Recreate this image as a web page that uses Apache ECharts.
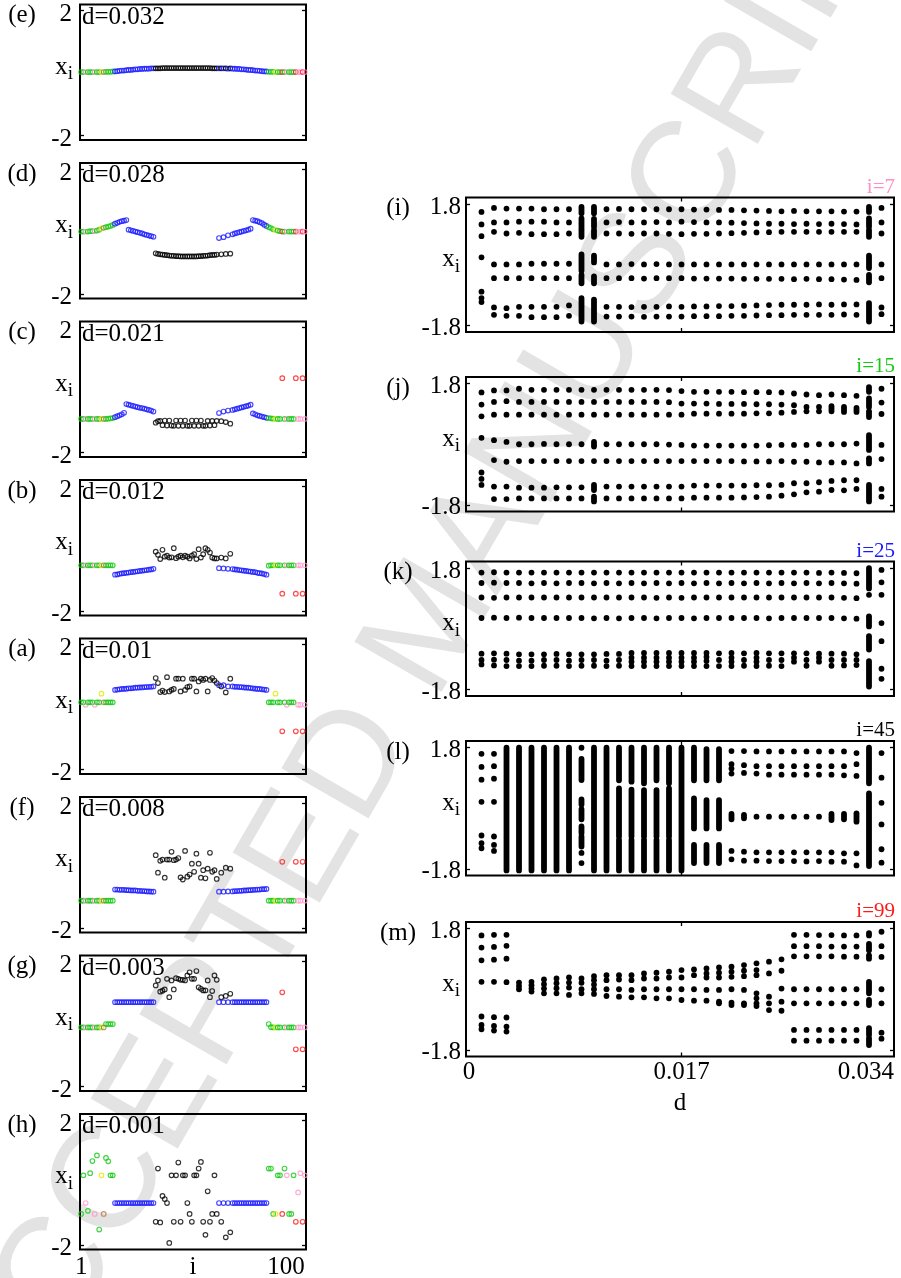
<!DOCTYPE html>
<html><head><meta charset="utf-8">
<script src="https://cdn.jsdelivr.net/npm/echarts@6.0.0/dist/echarts.min.js"></script>
<style>html,body{margin:0;padding:0;background:#fff}#c{width:901px;height:1278px}</style>
</head><body><div id="c"></div>
<script>
const FONT = 'Liberation Serif';

// ---------- left panels: snapshot x_i versus oscillator index i ----------
const indices = [1,2,3,4,5,6,7,8,9,10,11,12,13,14,15,16,17,18,19,20,21,22,23,24,25,26,27,28,29,30,31,32,33,34,35,36,37,38,39,40,41,42,43,44,45,46,47,48,49,50,51,52,53,54,55,56,57,58,59,60,61,62,63,64,65,66,67,68,69,70,71,72,73,74,75,76,77,78,79,80,81,82,83,84,85,86,87,88,89,90,91,92,93,94,95,96,97,98,99,100];
// colour class of each oscillator (G green, P pink, Y yellow, N brown, B blue, K black, R red)
const colorKeys = 'GGPGGGPGGYNGGGG' + 'BBBBBBBBBBBBBBBBBB' + 'KKKKKKKKKKKKKKKKKKKKKKKKKKKK' + 'BKBKBK' + 'BBBBBBBBBBBBBBBB' + 'GGGYGGRGPGGGRPPRP';
const palette = {G:'#14c814', P:'#ff99cc', Y:'#e6e600', N:'#b07a45', B:'#1a1aff', K:'#000000', R:'#ff1a1a'};

const leftLabels = ['(e)','(d)','(c)','(b)','(a)','(f)','(g)','(h)'];
const leftTitles = ['d=0.032','d=0.028','d=0.021','d=0.012','d=0.01','d=0.008','d=0.003','d=0.001'];

const xE = [0.03,0.03,0.03,0.03,0.03,0.03,0.03,0.03,0.03,0.03,0.03,0.04,0.04,0.04,0.05,
 0.05,0.06,0.07,0.08,0.08,0.09,0.10,0.10,0.11,0.12,0.12,0.13,0.13,0.14,0.14,0.14,0.15,0.15,
 0.15,0.15,0.15,0.16,0.16,0.16,0.16,0.16,0.16,0.16,0.16,0.16,0.16,0.16,0.16,0.16,0.16,0.16,0.16,0.16,0.16,0.16,0.16,0.16,0.16,0.15,0.15,0.15,
 0.15,0.15,0.15,0.15,0.14,0.15,
 0.14,0.14,0.13,0.13,0.12,0.12,0.11,0.10,0.10,0.09,0.08,0.08,0.07,0.06,0.05,0.05,
 0.04,0.04,0.04,0.03,0.03,0.03,0.03,0.03,0.03,0.03,0.03,0.03,0.03,0.03,0.03,0.03,0.03];
const xD = [0.00,0.00,0.00,0.00,0.01,0.01,0.01,0.03,0.06,0.10,0.12,0.14,0.16,0.18,0.21,
 0.25,0.28,0.31,0.33,0.35,0.37,0.06,0.04,0.02,0.00,-0.02,-0.04,-0.06,-0.09,-0.11,-0.13,-0.15,-0.17,
 -0.70,-0.72,-0.73,-0.74,-0.75,-0.76,-0.77,-0.78,-0.78,-0.79,-0.79,-0.80,-0.80,-0.80,-0.80,-0.80,-0.80,-0.80,-0.80,-0.79,-0.79,-0.78,-0.78,-0.77,-0.76,-0.75,-0.75,-0.74,
 -0.21,-0.73,-0.18,-0.72,-0.12,-0.71,
 -0.09,-0.06,-0.04,-0.02,0.00,0.02,0.04,0.06,0.09,0.37,0.35,0.33,0.30,0.27,0.22,0.18,
 0.14,0.11,0.07,0.05,0.03,0.01,0.00,0.00,0.00,0.00,0.00,0.00,0.00,0.00,0.00,0.00,0.00];
const xC = [-0.93,-0.93,-0.93,-0.93,-0.93,-0.93,-0.93,-0.93,-0.93,-0.93,-0.93,-0.93,-0.92,-0.91,-0.90,
 -0.87,-0.84,-0.81,-0.78,-0.73,-0.45,-0.47,-0.49,-0.51,-0.53,-0.55,-0.57,-0.58,-0.60,-0.62,-0.64,-0.66,-0.69,
 -1.05,-1.00,-0.99,-1.13,-0.98,-1.14,-0.98,-1.14,-1.15,-0.98,-1.15,-0.98,-1.15,-0.98,-1.15,-1.15,-0.98,-1.15,-0.98,-1.15,-0.98,-1.15,-1.15,-0.99,-1.14,-0.99,-1.13,-0.99,
 -0.74,-1.00,-0.69,-1.03,-0.66,-1.08,
 -0.64,-0.62,-0.60,-0.58,-0.56,-0.54,-0.52,-0.50,-0.47,-0.75,-0.78,-0.81,-0.83,-0.85,-0.87,-0.89,
 -0.90,-0.91,-0.92,-0.93,-0.93,-0.93,0.38,-0.93,-0.93,-0.93,-0.93,-0.93,0.38,-0.93,-0.93,0.38,-0.93];
const xB = [-0.54,-0.54,-0.54,-0.54,-0.54,-0.54,-0.54,-0.54,-0.54,-0.54,-0.54,-0.54,-0.54,-0.54,-0.54,
 -0.84,-0.83,-0.81,-0.80,-0.79,-0.78,-0.77,-0.76,-0.75,-0.74,-0.73,-0.72,-0.71,-0.70,-0.69,-0.68,-0.67,-0.65,
 -0.10,-0.20,-0.34,-0.04,-0.26,-0.23,-0.29,-0.28,0.01,-0.31,-0.26,-0.23,-0.28,-0.23,-0.26,-0.32,-0.23,-0.18,-0.34,-0.02,-0.29,-0.18,0.01,-0.04,-0.13,-0.29,-0.32,-0.32,
 -0.63,-0.29,-0.64,-0.32,-0.65,-0.17,
 -0.66,-0.67,-0.68,-0.69,-0.70,-0.71,-0.72,-0.73,-0.74,-0.75,-0.76,-0.78,-0.79,-0.80,-0.82,-0.84,
 -0.55,-0.54,-0.54,-0.54,-0.54,-0.54,-1.45,-0.54,-0.54,-0.54,-0.54,-0.54,-1.45,-0.54,-0.54,-1.45,-0.54];
const xA = [0.15,0.15,0.07,0.15,0.15,0.15,0.07,0.15,0.15,0.43,0.15,0.15,0.15,0.15,0.15,
 0.55,0.56,0.57,0.58,0.58,0.59,0.60,0.60,0.61,0.62,0.62,0.63,0.63,0.64,0.64,0.65,0.65,0.66,
 0.93,0.77,0.48,0.53,0.48,0.96,0.50,0.55,0.58,0.91,0.91,0.50,0.91,0.55,0.64,0.66,0.91,0.91,0.50,0.82,0.91,0.87,0.91,0.50,0.87,0.93,0.85,0.77,
 0.70,0.66,0.70,0.47,0.66,0.91,
 0.66,0.65,0.65,0.64,0.64,0.63,0.62,0.62,0.61,0.60,0.59,0.58,0.58,0.57,0.56,0.55,
 0.15,0.15,0.15,0.43,0.15,0.15,-0.78,0.15,0.07,0.15,0.15,0.15,-0.78,0.07,0.07,-0.78,0.07];
const xF = [-1.13,-1.13,-1.13,-1.13,-1.13,-1.13,-1.13,-1.13,-1.13,-1.13,-1.13,-1.13,-1.13,-1.13,-1.13,
 -0.77,-0.77,-0.78,-0.78,-0.78,-0.79,-0.79,-0.80,-0.80,-0.80,-0.81,-0.81,-0.82,-0.82,-0.83,-0.83,-0.84,-0.84,
 0.33,-0.23,0.15,0.19,-0.39,0.19,0.19,0.44,0.17,0.19,0.24,-0.38,-0.45,0.47,-0.36,-0.29,0.06,-0.20,0.38,0.06,-0.39,-0.15,-0.41,-0.10,0.41,-0.20,-0.15,-0.43,
 -0.84,-0.23,-0.84,-0.07,-0.83,-0.10,
 -0.83,-0.82,-0.82,-0.81,-0.81,-0.80,-0.80,-0.79,-0.79,-0.78,-0.78,-0.77,-0.77,-0.76,-0.76,-0.75,
 -1.13,-1.13,-1.13,-1.13,-1.13,-1.13,0.12,-1.13,-1.13,-1.13,-1.13,-1.13,0.12,-1.13,-1.13,0.12,-1.13];
const xG = [-0.11,-0.11,-0.11,-0.11,-0.11,-0.11,-0.11,-0.11,-0.11,-0.11,-0.11,0.00,0.00,0.00,0.00,
 0.70,0.70,0.70,0.70,0.70,0.70,0.70,0.70,0.70,0.70,0.70,0.70,0.70,0.70,0.70,0.70,0.70,0.70,
 1.24,1.40,1.04,1.07,1.11,1.45,0.86,1.40,1.11,1.47,1.45,1.42,1.42,1.40,1.56,1.66,1.45,1.45,1.70,1.18,1.13,1.08,1.08,1.40,0.86,1.06,1.56,1.42,
 0.70,0.86,0.70,0.90,0.70,0.97,
 0.70,0.70,0.70,0.70,0.70,0.70,0.70,0.70,0.70,0.70,0.70,0.70,0.70,0.70,0.70,0.70,
 0.00,-0.10,-0.11,-0.11,-0.11,-0.11,1.02,-0.11,-0.11,-0.11,-0.11,-0.11,-0.81,-0.11,-0.11,-0.81,-0.11];
const xH = [-1.01,0.23,-0.66,-0.91,0.30,0.69,-1.01,0.87,-1.51,0.23,-1.01,0.79,0.68,0.23,0.23,
 -0.66,-0.66,-0.66,-0.66,-0.66,-0.66,-0.66,-0.66,-0.66,-0.66,-0.66,-0.66,-0.66,-0.66,-0.66,-0.66,-0.66,-0.66,
 -1.26,0.45,-1.28,-0.43,-0.53,-0.66,-1.94,0.23,-1.26,0.23,0.64,-1.26,0.23,0.23,-0.66,-1.01,-1.26,0.23,0.23,0.45,0.66,-1.26,-1.68,-0.28,-1.26,-1.01,0.23,-1.01,
 -0.66,-1.26,-0.66,-1.76,-0.66,-1.60,
 -0.66,-0.66,-0.66,-0.66,-0.66,-0.66,-0.66,-0.66,-0.66,-0.66,-0.66,-0.66,-0.66,-0.66,-0.66,-0.66,
 0.45,0.45,-1.01,-1.01,0.23,0.23,-1.01,0.45,0.23,-1.01,-1.01,0.23,-1.26,-0.32,0.30,-1.26,0.23];
const leftValues = [xE, xD, xC, xB, xA, xF, xG, xH];

// ---------- right panels: x_i versus coupling d ----------
const dValues = [0.001,0.002,0.003,0.004,0.005,0.006,0.007,0.008,0.009,0.010,0.011,0.012,0.013,0.014,0.015,0.016,0.017,0.018,0.019,0.020,0.021,0.022,0.023,0.024,0.025,0.026,0.027,0.028,0.029,0.030,0.031,0.032,0.033];
const dTicks = [0, 0.017, 0.034];
const rightLabels = ['(i)','(j)','(k)','(l)','(m)'];
const rightTitles = ['i=7','i=15','i=25','i=45','i=99'];
const rightTitleColors = ['#ff8fc8','#14c814','#1a1aff','#000000','#ff1a1a'];
// each column: single values, or [low, high] for a dense cluster
const colsI = [
 [1.57,1.20,0.85,0.22,-0.80,-0.99,-1.11],
 [1.69,1.26,0.98,0.01,-0.40,-1.27,-1.49],
 [1.67,1.26,0.93,0.01,-0.40,-1.29,-1.52],
 [1.67,1.28,0.95,0.01,-0.40,-1.25,-1.52],
 [1.67,1.28,0.91,0.03,-0.40,-1.25,-1.56],
 [1.65,1.28,0.91,0.03,-0.40,-1.25,-1.56],
 [1.65,1.26,0.91,0.03,-0.40,-1.25,-1.56],
 [1.65,1.26,0.93,0.03,-0.40,-1.21,-1.52],
 [[1.53,1.72],[1.08,1.38],[0.83,1.03],[-0.18,0.31],[-0.55,-0.30],[-1.69,-0.99]],
 [[1.53,1.72],[1.13,1.36],[0.83,1.03],[0.07,0.27],[-0.55,-0.35],[-1.69,-1.04]],
 [1.65,1.26,0.93,0.01,-0.40,-1.25,-1.54],
 [1.66,1.27,0.93,0.01,-0.40,-1.25,-1.54],
 [1.65,1.26,0.92,0.02,-0.40,-1.26,-1.54],
 [1.65,1.26,0.93,0.01,-0.41,-1.25,-1.55],
 [1.65,1.27,0.93,0.02,-0.40,-1.25,-1.54],
 [1.65,1.26,0.92,0.01,-0.40,-1.24,-1.54],
 [1.65,1.28,0.91,0.01,-0.40,-1.25,-1.54],
 [1.64,1.27,0.92,0.01,-0.41,-1.24,-1.53],
 [1.64,1.26,0.92,0.01,-0.41,-1.24,-1.53],
 [1.63,1.26,0.93,0.01,-0.41,-1.23,-1.53],
 [1.63,1.25,0.94,0.01,-0.41,-1.23,-1.52],
 [1.62,1.24,0.95,0.01,-0.42,-1.22,-1.52],
 [1.61,1.23,0.96,0.01,-0.42,-1.21,-1.51],
 [1.60,1.22,0.97,0.01,-0.42,-1.20,-1.50],
 [1.59,1.22,0.98,0.01,-0.42,-1.19,-1.50],
 [1.60,1.21,0.98,0.01,-0.43,-1.19,-1.49],
 [1.59,1.22,0.98,0.01,-0.42,-1.19,-1.49],
 [1.59,1.21,0.98,0.01,-0.43,-1.18,-1.49],
 [1.59,1.22,0.98,0.01,-0.43,-1.19,-1.49],
 [1.58,1.21,0.98,0.01,-0.44,-1.18,-1.48],
 [1.58,1.20,0.98,0.01,-0.45,-1.18,-1.49],
 [[1.57,1.72],[1.13,1.38],[0.83,1.03],[-0.10,0.27],[-0.52,-0.30],[-1.69,-1.14]],
 [1.69,1.26,0.93,0.01,-0.40,-1.27,-1.47]
];
const colsJ = [
 [1.54,1.18,0.83,0.19,-0.84,-1.03,-1.21],
 [1.60,1.26,0.88,0.12,-0.47,-1.26,-1.63],
 [1.60,1.28,0.88,0.07,-0.52,-1.26,-1.63],
 [1.65,1.26,0.88,0.00,-0.50,-1.29,-1.61],
 [1.62,1.26,0.88,0.00,-0.50,-1.29,-1.61],
 [1.62,1.26,0.88,0.01,-0.50,-1.29,-1.61],
 [1.62,1.26,0.88,0.00,-0.50,-1.28,-1.61],
 [1.62,1.26,0.88,0.00,-0.50,-1.28,-1.61],
 [1.62,1.26,0.88,0.00,-0.50,-1.28,-1.61],
 [1.62,1.26,0.88,[-0.07,0.07],-0.50,[-1.36,-1.21],[-1.70,-1.56]],
 [1.62,1.26,0.88,0.00,-0.50,-1.26,-1.61],
 [1.62,1.26,0.88,0.00,-0.50,-1.26,-1.61],
 [1.62,1.26,0.88,0.00,-0.50,-1.26,-1.61],
 [1.62,1.26,0.88,0.00,-0.50,-1.26,-1.61],
 [1.62,1.26,0.88,0.00,-0.50,-1.26,-1.61],
 [1.61,1.25,0.88,-0.01,-0.50,-1.26,-1.61],
 [1.58,1.21,0.88,-0.02,-0.50,-1.26,-1.61],
 [1.56,1.21,0.91,-0.04,-0.50,-1.23,-1.59],
 [1.56,1.21,0.91,-0.04,-0.50,-1.23,-1.59],
 [1.56,1.20,0.91,-0.04,-0.50,-1.23,-1.59],
 [1.56,1.20,0.91,-0.04,-0.50,-1.23,-1.59],
 [1.55,1.20,0.91,-0.04,-0.51,-1.23,-1.58],
 [1.55,1.19,0.92,-0.04,-0.51,-1.22,-1.57],
 [1.55,1.19,0.92,-0.03,-0.51,-1.22,-1.56],
 [1.54,1.18,0.94,-0.02,-0.50,-1.21,-1.53],
 [1.51,1.16,0.96,-0.02,-0.52,-1.16,-1.49],
 [1.48,1.11,0.98,-0.02,-0.52,-1.16,-1.43],
 [1.46,1.11,0.98,0.00,-0.54,-1.13,-1.41],
 [1.48,[0.98,1.13],0.00,-0.54,-1.09,-1.36],
 [1.46,[0.96,1.11],0.00,-0.54,-1.07,-1.37],
 [1.44,[0.96,1.08],0.02,-0.57,-1.07,-1.33],
 [[1.56,1.70],[1.11,1.36],[0.81,0.98],[-0.17,0.27],[-0.57,-0.42],[-1.70,-1.21]],
 [1.65,1.24,0.90,-0.02,-0.44,-1.33,-1.56]
];
const colsK = [
 [1.67,1.36,0.93,0.32,-0.74,-0.93,-1.06],
 [1.68,1.37,0.92,0.33,-0.73,-0.92,-1.09],
 [1.67,1.36,0.93,0.32,-0.74,-0.93,-1.11],
 [1.67,1.36,0.93,0.33,-0.76,-0.95,-1.11],
 [1.67,1.35,0.93,0.32,-0.76,-0.95,-1.11],
 [1.67,1.36,0.93,0.32,-0.76,-0.93,-1.10],
 [1.67,1.35,0.93,0.32,-0.75,-0.93,-1.10],
 [1.67,1.36,0.93,0.32,-0.76,-0.95,-1.11],
 [1.67,1.36,0.93,0.32,-0.76,-0.93,-1.10],
 [1.67,1.35,0.93,0.31,-0.76,-0.93,-1.10],
 [1.67,1.36,0.93,0.32,-0.75,-0.95,-1.11],
 [1.67,1.35,0.93,0.31,-0.75,-0.93,-1.10],
 [1.67,1.36,0.93,0.32,-0.72,-0.86,-0.98,-1.11],
 [1.67,1.35,0.93,0.32,-0.72,-0.86,-0.98,-1.11],
 [1.67,1.36,0.92,0.31,-0.72,-0.86,-0.98,-1.11],
 [1.67,1.35,0.93,0.32,-0.72,-0.86,-0.98,-1.11],
 [1.67,1.36,0.92,0.32,-0.72,-0.86,-0.98,-1.11],
 [1.67,1.35,0.93,0.31,-0.72,-0.86,-0.98,-1.11],
 [1.67,1.36,0.93,0.32,-0.72,-0.84,-0.96,-1.11],
 [1.67,1.35,0.93,0.32,-0.73,-0.93,-1.11],
 [1.67,1.36,0.93,0.32,-0.72,-0.86,-0.98,-1.11],
 [1.67,1.35,0.93,0.32,-0.73,-0.93,-1.10],
 [1.67,1.36,0.93,0.32,-0.72,-0.86,-0.98,-1.11],
 [1.67,1.35,0.93,0.31,-0.73,-0.93,-1.10],
 [1.67,1.36,0.93,0.32,-0.73,-0.93,-1.11],
 [1.67,1.35,0.93,0.32,-0.73,-0.86,-0.98],
 [1.67,1.36,0.93,0.32,-0.73,-0.93,-1.10],
 [1.66,1.35,0.93,0.32,-0.74,-0.86,-0.98],
 [1.67,1.36,0.93,0.32,-0.74,-0.93,-1.10],
 [1.66,1.35,0.92,0.31,-0.74,-0.93,-1.09],
 [1.65,1.34,0.91,0.30,-0.76,-0.93,-1.08],
 [[1.20,1.80],1.01,[0.07,0.37],[-0.62,-0.22],[-1.72,-0.96]],
 [1.75,1.38,1.01,0.17,-0.37,-1.19,-1.49]
];
const colsL = [
 [1.62,1.23,0.85,0.19,-0.81,-1.04,-1.19],
 [1.62,1.25,0.88,0.19,-0.84,-1.09,-1.27],
 [[-1.85,1.80]],
 [[-1.85,1.80]],
 [[-1.85,1.80]],
 [[-1.85,1.80]],
 [[-1.85,1.80]],
 [[-1.85,1.80]],
 [1.80,[0.84,1.47],[0.11,0.26],[-0.33,-0.03],[-0.74,-0.54],[-1.14,-0.84],-1.33,-1.63],
 [[-1.85,1.80]],
 [[-1.85,1.80]],
 [[0.83,1.80],[-0.84,0.59],[-1.85,-0.94]],
 [[0.79,1.80],[-0.84,0.55],[-1.85,-0.94]],
 [[0.74,1.80],[-0.84,0.54],[-1.85,-0.94]],
 [[0.83,1.80],[-0.84,0.54],[-1.85,-0.94]],
 [[0.74,1.80],[-0.84,0.59],[-1.85,-0.94]],
 [[-1.85,1.80]],
 [[0.83,1.80],[-0.60,0.29],[-1.63,-1.09]],
 [[0.83,1.76],[-0.60,0.24],[-1.63,-1.09]],
 [[0.83,1.76],[-0.60,0.24],[-1.63,-1.09]],
 [1.70,1.31,1.18,1.03,[-0.33,-0.17],-1.27,-1.52],
 [1.70,1.28,1.05,[-0.30,-0.20],-1.29,-1.56],
 [1.69,1.25,1.03,-0.25,-1.31,-1.56],
 [1.69,1.25,1.00,-0.25,-1.31,-1.57],
 [1.69,1.25,1.00,-0.25,-1.31,-1.57],
 [1.69,1.25,1.00,-0.25,-1.31,-1.57],
 [1.69,1.25,1.00,-0.25,-1.31,-1.58],
 [1.69,1.25,1.00,-0.25,-1.31,-1.57],
 [1.69,1.25,1.00,[-0.35,-0.17],-1.31,-1.59],
 [1.69,1.25,0.98,[-0.33,-0.17],-1.34,-1.59],
 [1.64,1.31,0.96,[-0.40,-0.15],-1.34,-1.70],
 [[0.74,1.80],[-1.72,0.44]],
 [1.64,0.91,0.16,-0.48,-1.22,-1.62]
];
const colsM = [
 [1.60,1.24,0.86,0.22,-0.81,-1.06,-1.19],
 [1.62,1.26,0.88,0.22,-0.83,-1.09,-1.23],
 [1.62,1.29,0.91,0.21,-0.84,-1.11,-1.26],
 [0.20,0.10,0.00],
 [0.22,0.12,0.02,-0.07],
 [0.29,0.15,0.02,-0.12],
 [0.32,0.18,0.03,-0.12],
 [0.35,0.20,0.05,-0.17],
 [0.32,0.19,0.00,-0.12],
 [0.39,0.27,0.14,0.00,-0.14],
 [0.42,0.27,0.00,-0.20],
 [0.42,0.29,0.00,-0.22],
 [0.42,0.27,-0.02,-0.24],
 [0.47,0.32,0.00,-0.24],
 [0.49,0.32,0.00,-0.27],
 [0.52,0.35,0.00,-0.27],
 [0.57,0.35,0.00,-0.32],
 [0.59,0.42,0.00,-0.34],
 [0.62,0.47,0.35,-0.02,-0.34],
 [0.65,0.49,0.35,-0.02,-0.37,-0.42],
 [0.67,0.52,0.37,0.00,-0.40,-0.47],
 [0.72,0.55,0.39,-0.02,-0.42,-0.47],
 [0.77,0.57,0.42,-0.12,-0.27,-0.42,-0.50],
 [0.82,0.47,-0.22,-0.42,-0.62],
 [0.89,0.55,0.02,-0.37,-0.64],
 [1.62,1.28,0.98,0.00,-0.42,-1.21,-1.53],
 [1.62,1.28,0.98,0.00,-0.42,-1.21,-1.53],
 [1.61,1.28,0.98,0.00,-0.42,-1.21,-1.53],
 [1.61,1.27,0.98,0.00,-0.42,-1.21,-1.53],
 [1.60,1.27,0.97,0.00,-0.42,-1.21,-1.53],
 [1.60,1.27,0.97,0.00,-0.42,-1.21,-1.53],
 [[1.60,1.67],[1.16,1.35],[0.91,1.01],[-0.12,0.22],[-0.47,-0.32],[-1.36,-1.16],[-1.66,-1.46]],
 [1.71,1.28,0.96,0.00,-0.42,-1.29,-1.47]
];
const rightCols = [colsI, colsJ, colsK, colsL, colsM];

// ---------- layout ----------
const leftTops = [4.5, 163, 321.5, 480, 638.5, 797, 955.5, 1114];
const LH = 135.5, LL = 80, LW = 226;
const rightTops = [197.5, 377, 561.5, 741, 922];
const RH = 134.5, RL = 466, RW = 428;

const tickStyle = {color:'#000', width:1.3};
const labelStyle = {fontFamily:FONT, fontSize:25, color:'#000'};
const xiName = {
  name:'{x|x}{s|i}', nameLocation:'middle', nameRotate:0, nameMoveOverlap:false,
  nameTextStyle:{padding:[0,0,6,0], rich:{
    x:{fontFamily:FONT, fontSize:25, color:'#000', verticalAlign:'top'},
    s:{fontFamily:FONT, fontSize:19, color:'#000', verticalAlign:'top', padding:[10,0,0,0]}
  }}
};
const noLine = {show:false, onZero:false};
function shiftedLabel(pad, margin, values) {
  return {show:true, customValues:values, margin:margin, formatter:'{a|{value}}',
    rich:{a:{fontFamily:FONT, fontSize:25, color:'#000', padding:[pad,0,0,0]}}};
}

const grids = [], xAxes = [], yAxes = [], series = [], graphics = [];

graphics.push({type:'text', x:433, y:626, rotation:60*Math.PI/180, z:-100, silent:true,
  style:{text:'ACCEPTED MANUSCRIPT', font:'146px "Liberation Sans"', fill:'#e3e3e3', align:'center', verticalAlign:'middle'}});

leftValues.forEach((vals, k) => {
  const top = leftTops[k];
  const last = k === leftValues.length - 1;
  grids.push({left:LL, top:top, width:LW, height:LH, show:true, borderColor:'#000', borderWidth:2, backgroundColor:'rgba(0,0,0,0)', outerBoundsMode:'none', containLabel:false});
  const g = grids.length - 1;
  xAxes.push({gridIndex:g, type:'value', min:0.5, max:100.5, axisLine:noLine, axisTick:{show:false}, splitLine:{show:false},
    axisLabel: last ? Object.assign({show:true, customValues:[1,100], alignMaxLabel:'right', margin:5}, labelStyle) : {show:false},
    name: last ? 'i' : '', nameLocation:'middle', nameGap:5, nameMoveOverlap:false, nameTextStyle:labelStyle});
  const xi = xAxes.length - 1;
  yAxes.push(Object.assign({gridIndex:g, type:'value', min:-2.15, max:2.2, position:'left', axisLine:noLine, splitLine:{show:false},
    axisTick:{show:true, inside:true, length:4, customValues:[-2,2], lineStyle:tickStyle},
    axisLabel:shiftedLabel(8, 8, [-2,2]), nameGap:7}, xiName));
  const yi = yAxes.length - 1;
  yAxes.push({gridIndex:g, type:'value', min:-2.15, max:2.2, position:'right', axisLine:noLine, splitLine:{show:false},
    axisTick:{show:true, inside:true, length:4, customValues:[-2,2], lineStyle:tickStyle}, axisLabel:{show:false}});
  series.push({type:'scatter', xAxisIndex:xi, yAxisIndex:yi, symbol:'circle', symbolSize:4.6, animation:false, silent:true,
    itemStyle:{color:'rgba(0,0,0,0)', borderWidth:1.15},
    data: indices.map((i, j) => ({value:[i, vals[j]], itemStyle:{borderColor: palette[colorKeys[j]]}}))});
  graphics.push({type:'text', x:22, y:top+11, silent:true, style:{text:leftLabels[k], font:'25px "Liberation Serif"', fill:'#000', align:'center', verticalAlign:'middle'}});
  graphics.push({type:'text', x:LL+2, y:top+12.5, silent:true, style:{text:leftTitles[k], font:'25px "Liberation Serif"', fill:'#000', align:'left', verticalAlign:'middle'}});
});

rightCols.forEach((cols, k) => {
  const top = rightTops[k];
  const last = k === rightCols.length - 1;
  grids.push({left:RL, top:top, width:RW, height:RH, show:true, borderColor:'#000', borderWidth:2, backgroundColor:'rgba(0,0,0,0)', outerBoundsMode:'none', containLabel:false});
  const g = grids.length - 1;
  xAxes.push({gridIndex:g, type:'value', min:-0.00024, max:0.034, position:'bottom', axisLine:noLine, splitLine:{show:false},
    axisTick:{show:true, inside:true, length:4, customValues:[0.017], lineStyle:tickStyle},
    axisLabel: last ? Object.assign({show:true, customValues:dTicks, alignMaxLabel:'right', margin:3}, labelStyle) : {show:false},
    name: last ? 'd' : '', nameLocation:'middle', nameGap:34, nameMoveOverlap:false, nameTextStyle:labelStyle});
  const xi = xAxes.length - 1;
  xAxes.push({gridIndex:g, type:'value', min:-0.00024, max:0.034, position:'top', axisLine:noLine, splitLine:{show:false},
    axisTick:{show:true, inside:true, length:4, customValues:[0.017], lineStyle:tickStyle}, axisLabel:{show:false}});
  yAxes.push(Object.assign({gridIndex:g, type:'value', min:-2, max:2, position:'left', axisLine:noLine, splitLine:{show:false},
    axisTick:{show:true, inside:true, length:4, customValues:[-1.8,1.8], lineStyle:tickStyle},
    axisLabel:shiftedLabel(6, 5, [-1.8,1.8]), nameGap:6}, xiName));
  const yi = yAxes.length - 1;
  yAxes.push({gridIndex:g, type:'value', min:-2, max:2, position:'right', axisLine:noLine, splitLine:{show:false},
    axisTick:{show:true, inside:true, length:4, customValues:[-1.8,1.8], lineStyle:tickStyle}, axisLabel:{show:false}});
  const data = [];
  cols.forEach((col, c) => {
    col.forEach(v => {
      if (Array.isArray(v)) data.push([dValues[c], v[0], v[1]]);
      else data.push([dValues[c], v, v]);
    });
  });
  series.push({type:'custom', xAxisIndex:xi, yAxisIndex:yi, animation:false, silent:true, clip:false,
    encode:{x:0, y:[1,2]}, data:data,
    renderItem:(params, api) => {
      const pt = api.coord([api.value(0), api.value(2)]);
      const pb = api.coord([api.value(0), api.value(1)]);
      const r = 2.9;
      return {type:'rect', shape:{x:pt[0]-r, y:pt[1]-r, width:2*r, height:(pb[1]-pt[1])+2*r, r:r}, style:{fill:'#000'}};
    }});
  graphics.push({type:'text', x:398, y:top+11, silent:true, style:{text:rightLabels[k], font:'25px "Liberation Serif"', fill:'#000', align:'center', verticalAlign:'middle'}});
  graphics.push({type:'text', x:RL+RW+1, y:top-10.5, silent:true, style:{text:rightTitles[k], font:'21px "Liberation Serif"', fill:rightTitleColors[k], align:'right', verticalAlign:'middle'}});
});

const chart = echarts.init(document.getElementById('c'), null, {renderer:'canvas'});
chart.setOption({
  animation:false,
  backgroundColor:'#ffffff',
  textStyle:{fontFamily:FONT},
  grid:grids, xAxis:xAxes, yAxis:yAxes, series:series,
  graphic:{elements:graphics}
});
</script>
</body></html>
